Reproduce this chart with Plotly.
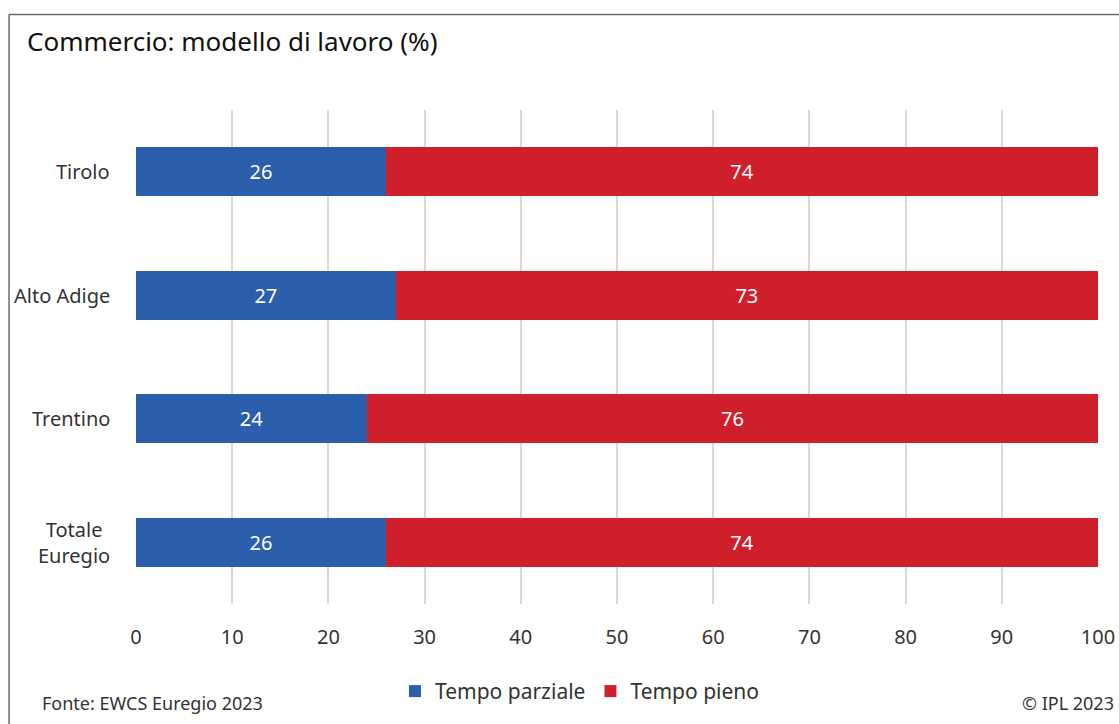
import plotly.graph_objects as go

categories = ["Tirolo", "Alto Adige", "Trentino", "Totale<br>Euregio"]
tempo_parziale = [26, 27, 24, 26]
tempo_pieno = [74, 73, 76, 74]
x_ticks = [0, 10, 20, 30, 40, 50, 60, 70, 80, 90, 100]

FONT = "Noto Sans"
BLUE = "#2B5EAB"
RED = "#CF1F2A"

fig = go.Figure()
fig.add_trace(go.Bar(
    y=categories, x=tempo_parziale, orientation="h", name="Tempo parziale",
    marker=dict(color=BLUE, line=dict(width=0)),
    text=tempo_parziale, textposition="inside", insidetextanchor="middle",
    textfont=dict(color="white", size=20, family=FONT),
))
fig.add_trace(go.Bar(
    y=categories, x=tempo_pieno, orientation="h", name="Tempo pieno",
    marker=dict(color=RED, line=dict(width=0)),
    text=tempo_pieno, textposition="inside", insidetextanchor="middle",
    textfont=dict(color="white", size=20, family=FONT),
))

fig.update_layout(
    width=1119, height=724,
    barmode="stack", bargap=0.6,
    paper_bgcolor="white", plot_bgcolor="white",
    margin=dict(l=136, r=21, t=110, b=118),
    font=dict(family=FONT, color="#222", size=19),
    title=dict(text="Commercio: modello di lavoro (%)", x=27/1119, xref="container",
               xanchor="left", y=0.942, yanchor="middle",
               pad=dict(l=0), font=dict(size=26, color="#111", family=FONT)),
    legend=dict(orientation="h", x=0.4615, xanchor="center", xref="paper",
                y=-0.177, yanchor="middle", font=dict(size=21, color="#333"),
                itemwidth=30, traceorder="normal"),
    showlegend=True,
)
fig.update_xaxes(range=[0, 100], tickvals=x_ticks, showgrid=True,
                 gridcolor="#d9d9d9", gridwidth=2, zeroline=False,
                 showline=False, ticks="", tickfont=dict(size=20, color="#333"),
                 ticklabelstandoff=19, automargin=False, fixedrange=True)
fig.update_yaxes(categoryorder="array", categoryarray=categories[::-1],
                 showgrid=False, showline=False, ticks="",
                 showticklabels=False, automargin=False)

# category labels (centered multi-line, right-anchored)
for c in categories:
    fig.add_annotation(text=c, xref="paper", yref="y", x=-0.025, y=c,
                       xanchor="right", yanchor="middle", align="center",
                       showarrow=False, font=dict(size=20, color="#333"))

# footer texts
fig.add_annotation(text="Fonte: EWCS Euregio 2023", xref="paper", yref="paper",
                   x=(40 - 136) / 962, y=-0.2, xanchor="left", yanchor="middle",
                   showarrow=False, font=dict(size=18, color="#333"))
fig.add_annotation(text="© IPL 2023", xref="paper", yref="paper",
                   x=(1116 - 136) / 962, y=-0.2, xanchor="right", yanchor="middle",
                   showarrow=False, font=dict(size=18, color="#333"))

# frame (left and top border)
fig.add_shape(type="line", xref="paper", yref="paper",
              x0=-0.132, x1=-0.132, y0=1.1935, y1=-0.3,
              line=dict(color="#6b6b6b", width=1.5))
fig.add_shape(type="line", xref="paper", yref="paper",
              x0=-0.132, x1=1.03, y0=1.1935, y1=1.1935,
              line=dict(color="#6b6b6b", width=1.5))

fig.write_html("out.html")
